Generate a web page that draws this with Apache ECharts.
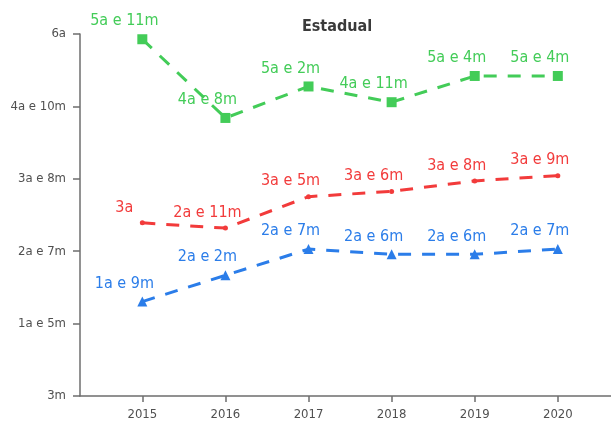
<!DOCTYPE html>
<html>
<head>
<meta charset="utf-8">
<script src="https://cdn.jsdelivr.net/npm/echarts@6/dist/echarts.min.js"></script>
<style>
  html, body { margin: 0; padding: 0; background: #fff; }
  #chart { width: 611px; height: 423px; }
</style>
</head>
<body>
<div id="chart"></div>
<script>
// Years on the horizontal axis
const years = [2015, 2016, 2017, 2018, 2019, 2020];

// Durations in months for each series
const greenMonths = [71, 56, 62, 59, 64, 64];
const redMonths   = [36, 35, 41, 42, 44, 45];
const blueMonths  = [21, 26, 31, 30, 30, 31];

// Vertical axis tick values (months)
const yTicks = [3, 16.8, 30.6, 44.4, 58.2, 72];

const FONT = '"Liberation Sans Narrow", "DejaVu Sans Condensed", "Roboto", sans-serif';

// Format a month count as "Xa e Ym"
function fmtMonths(v) {
  const m = Math.round(v);
  const a = Math.floor(m / 12);
  const r = m % 12;
  if (a === 0) return r + 'm';
  if (r === 0) return a + 'a';
  return a + 'a e ' + r + 'm';
}

function makeSeries(name, values, color, symbol, symbolSize) {
  return {
    name: name,
    type: 'line',
    data: years.map((y, i) => [y, values[i]]),
    symbol: symbol,
    symbolSize: symbolSize,
    lineStyle: { color: color, width: 3, type: [13, 11] },
    itemStyle: { color: color },
    label: {
      show: true,
      position: 'top',
      distance: 5,
      offset: [-18, 0],
      color: color,
      fontFamily: FONT,
      fontSize: 16,
      formatter: p => fmtMonths(p.value[1])
    },
    z: 3
  };
}

const axisColor = '#6e6e6e';
const chart = echarts.init(document.getElementById('chart'));
chart.setOption({
  animation: false,
  backgroundColor: '#ffffff',
  title: {
    text: 'Estadual',
    left: 332,
    top: 14,
    textAlign: 'center',
    textStyle: { fontFamily: FONT, fontSize: 16, fontWeight: 'bold', color: '#3a3a3a' }
  },
  grid: { left: 80, right: 0, top: 34, bottom: 27 },
  xAxis: {
    type: 'value',
    min: 2014.25,
    max: 2020.64,
    splitLine: { show: false },
    axisLine: { show: true, lineStyle: { color: axisColor, width: 1.5 } },
    axisTick: { show: true, customValues: years, length: 6, lineStyle: { color: axisColor, width: 1.5 } },
    axisLabel: {
      customValues: years,
      formatter: v => String(v),
      color: '#505050',
      fontFamily: FONT,
      fontSize: 13,
      margin: 12
    }
  },
  yAxis: {
    type: 'value',
    min: 3,
    max: 72,
    splitLine: { show: false },
    axisLine: { show: true, lineStyle: { color: axisColor, width: 1.5 } },
    axisTick: { show: true, customValues: yTicks, length: 7, lineStyle: { color: axisColor, width: 1.5 } },
    axisLabel: {
      customValues: yTicks,
      formatter: v => fmtMonths(v),
      color: '#505050',
      fontFamily: FONT,
      fontSize: 13,
      margin: 14
    }
  },
  series: [
    makeSeries('verde', greenMonths, '#43cc58', 'rect', 10),
    makeSeries('vermelho', redMonths, '#f23b3b', 'circle', 5),
    makeSeries('azul', blueMonths, '#2b7de9', 'triangle', 10)
  ]
});
</script>
</body>
</html>
